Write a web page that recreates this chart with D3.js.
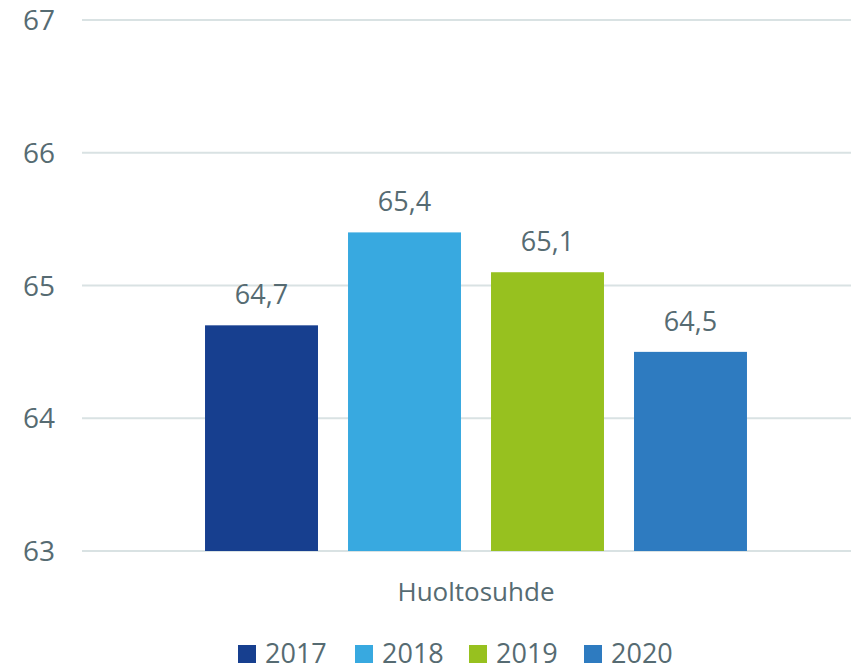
<!DOCTYPE html>
<html>
<head>
<meta charset="utf-8">
<script src="https://cdn.jsdelivr.net/npm/d3@7"></script>
<style>
  body { margin: 0; background: #fff; }
  svg text { font-family: "Open Sans", sans-serif; fill: #566b72; }
</style>
</head>
<body>
<svg id="chart" width="851" height="667"></svg>
<script>
var categories = ["Huoltosuhde"];
var years = ["2017", "2018", "2019", "2020"];
var values = [64.7, 65.4, 65.1, 64.5];
var colors = ["#173f8f", "#38a9e0", "#97c11f", "#2e7bc0"];
var yTicks = [63, 64, 65, 66, 67];

var svg = d3.select("#chart");

var x0 = d3.scaleBand().domain(categories).range([82, 870]).paddingInner(0).paddingOuter(0.227);
var x1 = d3.scaleBand().domain(years).range([0, x0.bandwidth()]).paddingInner(0.21).paddingOuter(0);
var y = d3.scaleLinear().domain([63, 67]).range([551, 20]);

// gridlines
svg.append("g").selectAll("line").data(yTicks).join("line")
  .attr("x1", 82).attr("x2", 851)
  .attr("y1", function(d) { return y(d); }).attr("y2", function(d) { return y(d); })
  .attr("stroke", "#d9e2e3").attr("stroke-width", 2);

// y tick labels
svg.append("g").selectAll("text").data(yTicks).join("text")
  .attr("x", 55).attr("y", function(d) { return y(d); })
  .attr("dy", "0.36em").attr("text-anchor", "end")
  .style("font-size", "28px")
  .text(function(d) { return d; });

var group = svg.append("g").attr("transform", "translate(" + x0(categories[0]) + ",0)");

group.selectAll("rect").data(years).join("rect")
  .attr("x", function(d) { return x1(d); })
  .attr("width", x1.bandwidth())
  .attr("y", function(d, i) { return y(values[i]); })
  .attr("height", function(d, i) { return y(63) - y(values[i]); })
  .attr("fill", function(d, i) { return colors[i]; });

var fmt = function(v) { return d3.format(".1f")(v).replace(".", ","); };
group.selectAll("text.val").data(years).join("text")
  .attr("class", "val")
  .attr("x", function(d) { return x1(d) + x1.bandwidth() / 2; })
  .attr("y", function(d, i) { return y(values[i]) - 21; })
  .attr("text-anchor", "middle")
  .style("font-size", "27px")
  .text(function(d, i) { return fmt(values[i]); });

// category label
svg.append("text")
  .attr("x", x0(categories[0]) + x0.bandwidth() / 2).attr("y", 601)
  .attr("text-anchor", "middle")
  .style("font-size", "26px")
  .text(categories[0]);

// legend
var legendX = [238, 355, 469, 584];
var legend = svg.append("g").selectAll("g").data(years).join("g")
  .attr("transform", function(d, i) { return "translate(" + legendX[i] + ",645)"; });
legend.append("rect").attr("width", 18).attr("height", 18)
  .attr("fill", function(d, i) { return colors[i]; });
legend.append("text").attr("x", 27).attr("y", 18)
  .style("font-size", "27px")
  .text(function(d) { return d; });
</script>
</body>
</html>
